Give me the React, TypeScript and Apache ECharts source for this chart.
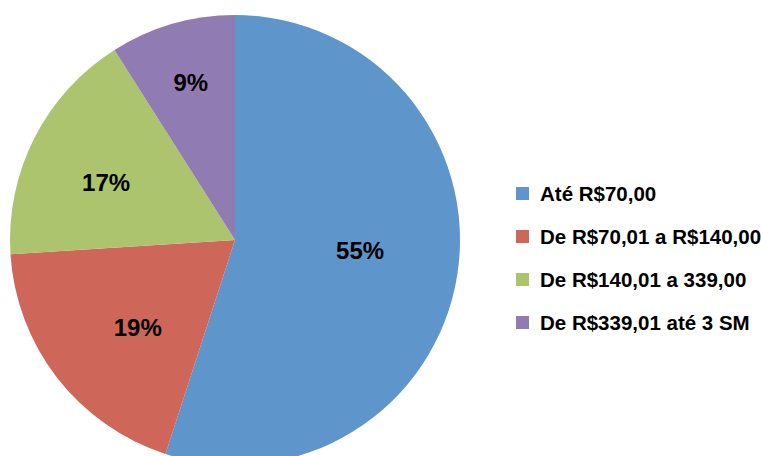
import React, { useEffect, useRef } from "react";
import * as echarts from "echarts";

const categories = ["Até R$70,00", "De R$70,01 a R$140,00", "De R$140,01 a 339,00", "De R$339,01 até 3 SM"];
const values = [55, 19, 17, 9];
const colors = ["#5E95CB", "#CF665A", "#ABC46D", "#917BB3"];
// label nudges (style only) to mimic the original label placement
const labelNudges: [number, number][] = [[11, -8], [-6, 17], [-26, -5], [-12, -47]];

export default function App() {
  const ref = useRef<HTMLDivElement>(null);
  useEffect(() => {
    document.body.style.margin = "0";
    const chart = echarts.init(ref.current!, null, { renderer: "svg" });
    chart.setOption({
      animation: false,
      color: colors,
      legend: {
        orient: "vertical",
        left: 511,
        top: 178,
        icon: "rect",
        itemWidth: 13,
        itemHeight: 13,
        itemGap: 22,
        data: categories,
        textStyle: {
          fontFamily: "Liberation Sans, Arial, sans-serif",
          fontWeight: "bold",
          fontSize: 20.5,
          lineHeight: 20,
          color: "#000",
          padding: [0, 0, 0, 6],
        },
      },
      series: [
        {
          type: "pie",
          center: [235, 240],
          radius: 225,
          startAngle: 90,
          clockwise: true,
          data: categories.map((name, i) => ({
            name,
            value: values[i],
            label: { offset: labelNudges[i] },
          })),
          label: {
            position: "inside",
            formatter: (p: any) => p.value + "%",
            fontFamily: "Liberation Sans, Arial, sans-serif",
            fontWeight: "bold",
            fontSize: 24,
            color: "#000",
          },
          labelLine: { show: false },
          itemStyle: { borderWidth: 0 },
          emphasis: { disabled: true },
        },
      ],
    });
    return () => chart.dispose();
  }, []);
  return <div ref={ref} style={{ width: 761, height: 456 }} />;
}
